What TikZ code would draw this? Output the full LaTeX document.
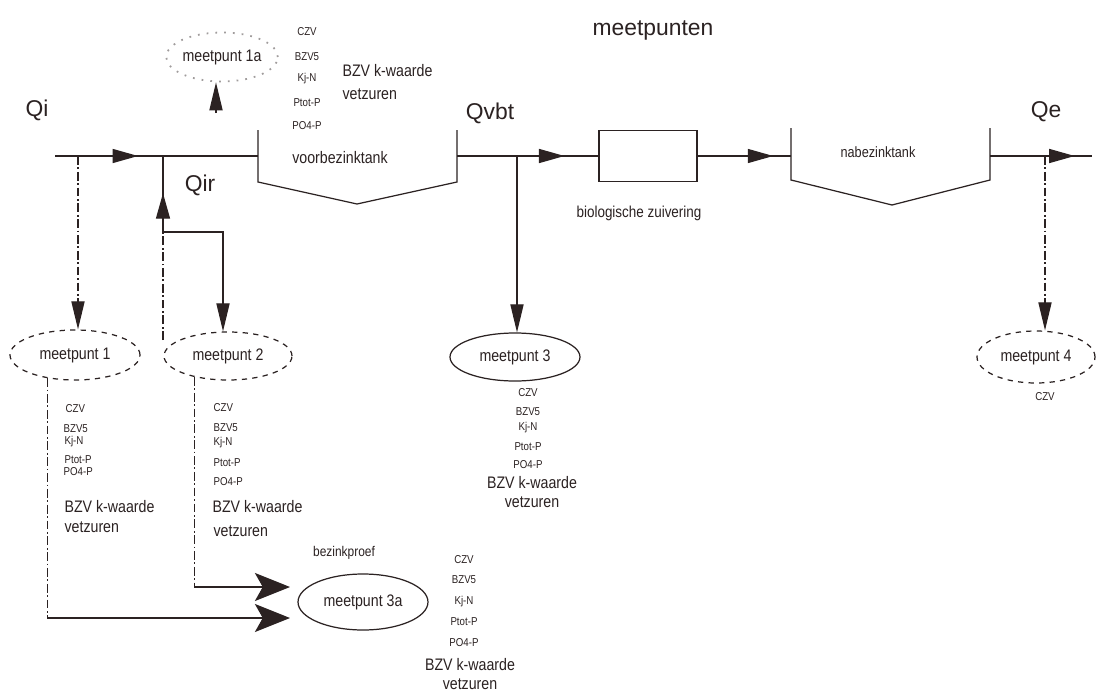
\documentclass[tikz,border=0pt]{standalone}
\usepackage{fontspec}
\setmainfont{Liberation Sans}[FakeStretch=0.85]
\newfontfamily\qfont{Liberation Sans}
\usetikzlibrary{arrows.meta,shapes.geometric,decorations.markings}
\definecolor{ink}{HTML}{2B2222}
\tikzset{
  brtip/.tip={Triangle[length=16pt,width=7.5pt]},
  bigtip/.tip={Stealth[length=20pt,width=16pt,inset=4.5pt]},
  flowarrow/.style={postaction={decorate},decoration={markings,
      mark=at position #1 with {\arrow{Triangle[length=14.5pt,width=8pt]}}}},
  lst/.style={font=\fontsize{6.5}{7}\selectfont,inner sep=0pt},
  big/.style={font=\fontsize{9.5}{10}\selectfont,inner sep=0pt},
  qlab/.style={font=\qfont\fontsize{13}{14}\selectfont,inner sep=0pt},
  mp/.style={ellipse,draw,font=\fontsize{9.5}{10}\selectfont,inner sep=0pt},
  dline/.style={dash pattern=on 5pt off 1.5pt on 1pt off 1.5pt}
}
\begin{document}
\begin{tikzpicture}[x=0.02cm,y=-0.02cm,line width=0.7pt,draw=ink,text=ink]
\useasboundingbox (0,0) rectangle (1096,693);
\fill[white] (0,0) rectangle (1096,693);

% measuring points
\node[mp,draw=ink!45,loosely dotted,line width=1pt,minimum width=2.08cm,minimum height=0.98cm] (m1a) at (222,57) {meetpunt 1a};
\node[mp,dashed,minimum width=2.6cm,minimum height=1cm] (m1) at (75,355) {meetpunt 1};
\node[mp,dashed,minimum width=2.56cm,minimum height=0.96cm] (m2) at (228,356) {meetpunt 2};
\node[mp,minimum width=2.6cm,minimum height=0.96cm] (m3) at (515,357) {meetpunt 3};
\node[mp,minimum width=2.6cm,minimum height=1.12cm] (m3a) at (363,602) {meetpunt 3a};
\node[mp,dashed,minimum width=2.36cm,minimum height=1.04cm] (m4) at (1036,357) {meetpunt 4};
\node[draw,minimum width=1.96cm,minimum height=1.02cm,inner sep=0pt] (bio) at (648,156) {};

% tanks
\draw (258,130) -- (258,182) -- (357,204) -- (457,182) -- (457,130);
\draw (791,128) -- (791,180) -- (892,205) -- (990,180) -- (990,128);

\coordinate (qin) at (55,156);
\coordinate (vbL) at (258,156);
\coordinate (vbR) at (457,156);
\coordinate (nbL) at (791,156);
\coordinate (nbR) at (990,156);
\coordinate (qout) at (1092,156);

% main flow
\draw[flowarrow=0.409] (qin) -- (vbL);
\draw[flowarrow=0.76] (vbR) -- (bio.west);
\draw[flowarrow=0.81] (bio.east) -- (nbL);
\draw[flowarrow=0.83] (nbR) -- (qout);

% branches
\coordinate (b1) at (78,156);
\draw[dline,-{brtip}] (b1) -- (b1 |- m1.north);
\coordinate (jq) at (163,156);
\coordinate (qir0) at (163,340);
\coordinate (k1) at (163,232);
\draw[dline] (qir0) -- (k1);
\draw[flowarrow=0.51] (k1) -- (jq);
\draw[-{brtip}] (k1) -| ([xshift=-0.1cm]m2.north);
\coordinate (b3) at (517,156);
\draw[-{brtip}] (b3) -- (b3 |- m3.north);
\coordinate (b4) at (1045,156);
\draw[dline,-{brtip}] (b4) -- (b4 |- m4.north);
\coordinate (c1a) at (216,113);
\draw[-{brtip}] (c1a) -- (c1a |- m1a.south);

% to meetpunt 3a
\coordinate (t1) at (290,618);
\coordinate (t2) at (290,587);
\draw[dline] (m1.220) -- (m1.220 |- t1);
\draw[-{bigtip}] (m1.220 |- t1) -- (t1);
\draw[dline] (m2.212) -- (m2.212 |- t2);
\draw[-{bigtip}] (m2.212 |- t2) -- (t2);

% flow labels
\node[qlab] (lqi) at (37,110) {Qi};
\node[qlab] (lqir) at (200,185) {Qir};
\node[qlab] (lqvbt) at (490,113) {Qvbt};
\node[qlab] (lqe) at (1046,112) {Qe};
\node[qlab] (ltitle) at (653,30) {meetpunten};

% unit labels
\node[big] (lvbt) at (340,158) {voorbezinktank};
\node[font=\fontsize{8.5}{9}\selectfont,inner sep=0pt] (lnbt) at (878,152) {nabezinktank};
\node[font=\fontsize{9}{10}\selectfont,inner sep=0pt] (lbio) at (639,213) {biologische zuivering};
\node[font=\fontsize{8}{9}\selectfont,inner sep=0pt] (lbzp) at (344,553) {bezinkproef};

% list 1a
\node[lst] (a1) at (307,32) {CZV};
\node[lst] (a2) at (307,57) {BZV5};
\node[lst] (a3) at (307,79) {Kj-N};
\node[lst] (a4) at (307,103) {Ptot-P};
\node[lst] (a5) at (307,126) {PO4-P};
\node[big,anchor=west] (a6) at (342,71) {BZV k-waarde};
\node[big,anchor=west] (a7) at (342,94) {vetzuren};

% list 1
\node[lst,anchor=west] (p1) at (65,409) {CZV};
\node[lst,anchor=west] (p2) at (63,429) {BZV5};
\node[lst,anchor=west] (p3) at (64,442) {Kj-N};
\node[lst,anchor=west] (p4) at (64,460) {Ptot-P};
\node[lst,anchor=west] (p5) at (63,472) {PO4-P};
\node[big,anchor=west] (p6) at (64,507) {BZV k-waarde};
\node[big,anchor=west] (p7) at (64,527) {vetzuren};

% list 2
\node[lst,anchor=west] (q1) at (213,408) {CZV};
\node[lst,anchor=west] (q2) at (213,428) {BZV5};
\node[lst,anchor=west] (q3) at (213,443) {Kj-N};
\node[lst,anchor=west] (q4) at (213,463) {Ptot-P};
\node[lst,anchor=west] (q5) at (213,482) {PO4-P};
\node[big,anchor=west] (q6) at (212,507) {BZV k-waarde};
\node[big,anchor=west] (q7) at (213,531) {vetzuren};

% list 3
\node[lst] (r1) at (528,393) {CZV};
\node[lst] (r2) at (528,412) {BZV5};
\node[lst] (r3) at (528,428) {Kj-N};
\node[lst] (r4) at (528,447) {Ptot-P};
\node[lst] (r5) at (528,465) {PO4-P};
\node[big] (r6) at (532,483) {BZV k-waarde};
\node[big] (r7) at (532,502) {vetzuren};

% list 3a
\node[lst] (s1) at (464,560) {CZV};
\node[lst] (s2) at (464,580) {BZV5};
\node[lst] (s3) at (464,602) {Kj-N};
\node[lst] (s4) at (464,622) {Ptot-P};
\node[lst] (s5) at (464,643) {PO4-P};
\node[big] (s6) at (470,665) {BZV k-waarde};
\node[big] (s7) at (470,684) {vetzuren};

% list 4
\node[lst] (u1) at (1045,397) {CZV};
\end{tikzpicture}
\end{document}
